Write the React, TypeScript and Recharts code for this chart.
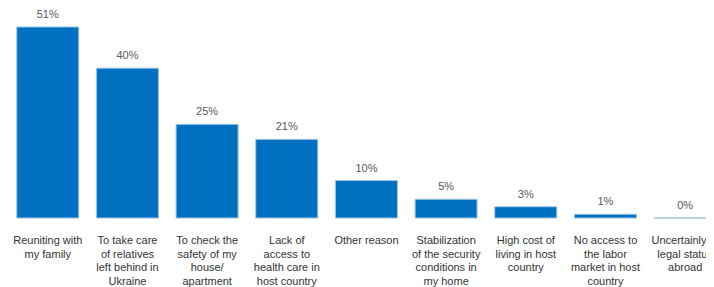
import React from 'react';
import { Bar, BarChart, LabelList, XAxis, YAxis } from 'recharts';

const reasons = [
  'Reuniting with\nmy family',
  'To take care\nof relatives\nleft behind in\nUkraine',
  'To check the\nsafety of my\nhouse/\napartment',
  'Lack of\naccess to\nhealth care in\nhost country',
  'Other reason',
  'Stabilization\nof the security\nconditions in\nmy home',
  'High cost of\nliving in host\ncountry',
  'No access to\nthe labor\nmarket in host\ncountry',
  'Uncertainly of\nlegal status\nabroad',
];
const shares = [51, 40, 25, 21, 10, 5, 3, 1, 0];

const data = reasons.map((reason, i) => ({ reason, share: shares[i] }));

const BarShape = (props: any) => {
  const { x, y, width, height } = props;
  const h = Math.max(height || 0, 0);
  const d = `M${x},${y + h} V${y} H${x + width} V${y + h} Z`;
  return <path d={d} fill="#0070C0" stroke="#9DC3E6" strokeWidth={1} />;
};

const ReasonTick = (props: any) => {
  const { x, y, payload } = props;
  const lines: string[] = String(payload.value).split('\n');
  return (
    <text x={x} y={y} textAnchor="middle" fill="#333" fontSize={11} fontFamily="Liberation Sans, Arial, sans-serif">
      {lines.map((line, i) => (
        <tspan key={i} x={x} dy={i === 0 ? 18 : 13.5}>
          {line}
        </tspan>
      ))}
    </text>
  );
};

const App: React.FC = () => {
  return (
    <BarChart
      width={717}
      height={279}
      data={data}
      margin={{ top: 4, right: 0, bottom: 0, left: 0 }}
      barCategoryGap="11%"
      style={{ fontFamily: 'Liberation Sans, Arial, sans-serif', overflow: 'visible' }}
    >
      <XAxis dataKey="reason" axisLine={false} tickLine={false} interval={0} height={69} tick={<ReasonTick />} />
      <YAxis hide domain={[0, 55]} />
      <Bar dataKey="share" shape={<BarShape />} isAnimationActive={false}>
        <LabelList
          dataKey="share"
          position="top"
          offset={9}
          formatter={(v: any) => `${v}%`}
          style={{ fill: '#595959', fontSize: 11 }}
        />
      </Bar>
    </BarChart>
  );
};

export default App;
